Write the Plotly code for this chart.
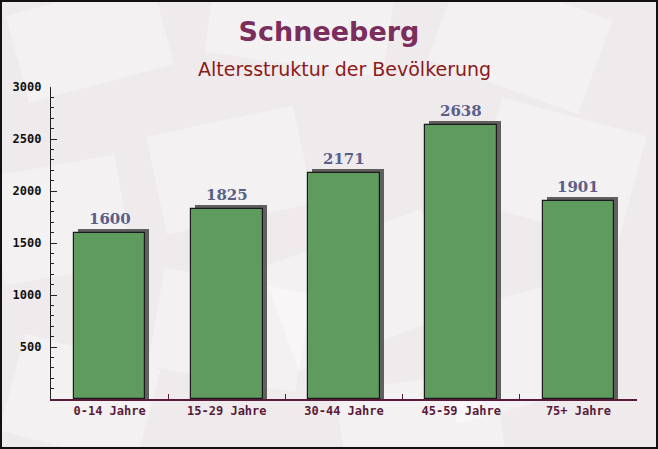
import math
import plotly.graph_objects as go

categories = ["0-14 Jahre", "15-29 Jahre", "30-44 Jahre", "45-59 Jahre", "75+ Jahre"]
values = [1600, 1825, 2171, 2638, 1901]
y_ticks = [500, 1000, 1500, 2000, 2500, 3000]

W, H = 658, 449
ml, mr, mt, mb = 51, 21, 87, 50
pw, ph = W - ml - mr, H - mt - mb
ymax = 3000
bar_w = 0.61
shadow_dx = 4 / (pw / len(categories))   # ~4px right in category units
shadow_dy = 4 * ymax / ph                # ~4px up in data units

fig = go.Figure()
fig.add_trace(go.Bar(
    x=categories, y=[v + shadow_dy for v in values],
    width=bar_w, offset=-bar_w / 2 + shadow_dx,
    marker=dict(color="rgba(70,70,70,0.85)", line=dict(width=0)),
    hoverinfo="skip", showlegend=False,
))
fig.add_trace(go.Bar(
    x=categories, y=values,
    width=bar_w, offset=-bar_w / 2,
    marker=dict(color="#5f9a5f", line=dict(color="#1a1a1a", width=1.2)),
    showlegend=False,
))

for c, v in zip(categories, values):
    fig.add_annotation(
        x=c, y=v, text=f"<b>{v}</b>", showarrow=False,
        yanchor="bottom", yshift=3,
        font=dict(family="DejaVu Serif", size=15, color="#5a5f8a"),
    )

# faint background decorations (tilted envelope-like cards), in pixel space
def px2paper(x, y):
    return (x - ml) / pw, (H - mb - y) / ph

deco = [  # cx, cy, w, h, angle (deg)
    (90, 40, 150, 90, -15), (300, 20, 180, 90, 8), (520, 40, 160, 100, 20),
    (60, 220, 130, 110, -10), (230, 170, 150, 100, -12), (560, 170, 150, 110, 15),
    (360, 290, 170, 110, -20), (230, 330, 150, 100, 10), (520, 350, 160, 110, -15),
    (80, 400, 140, 100, 15), (420, 420, 160, 80, -8),
]
for cx, cy, w, h, ang in deco:
    a = math.radians(ang)
    pts = []
    for dx, dy in [(-w / 2, -h / 2), (w / 2, -h / 2), (w / 2, h / 2), (-w / 2, h / 2)]:
        x = cx + dx * math.cos(a) - dy * math.sin(a)
        y = cy + dx * math.sin(a) + dy * math.cos(a)
        pts.append(px2paper(x, y))
    path = "M " + " L ".join(f"{p[0]:.4f},{p[1]:.4f}" for p in pts) + " Z"
    fig.add_shape(type="path", xref="paper", yref="paper", path=path,
                  fillcolor="rgba(255,255,255,0.35)", line=dict(width=0), layer="below")

# outer frame
fig.add_shape(type="rect", xref="paper", yref="paper",
              x0=-(ml - 1) / pw, x1=1 + (mr - 1) / pw,
              y0=-(mb - 1) / ph, y1=1 + (mt - 1) / ph,
              line=dict(color="#111111", width=2), fillcolor="rgba(0,0,0,0)")

fig.update_layout(
    width=W, height=H,
    margin=dict(l=ml, r=mr, t=mt, b=mb),
    paper_bgcolor="#efeaec", plot_bgcolor="rgba(0,0,0,0)",
    barmode="overlay", bargap=0,
    title=dict(
        text="<b>Schneeberg</b>",
        x=0.5, xanchor="center", y=1 - 32 / H, yanchor="middle",
        font=dict(family="DejaVu Sans", size=27, color="#7b2d5c"),
    ),
    annotations=list(fig.layout.annotations) + [dict(
        text="Altersstruktur der Bevölkerung", xref="paper", yref="paper",
        x=0.5, y=1 + (mt - 69) / ph, xanchor="center", yanchor="middle",
        showarrow=False, font=dict(family="DejaVu Sans", size=19, color="#8b1a1a"),
    )],
    xaxis=dict(
        showline=True, linecolor="#5a1a3a", linewidth=1.5,
        ticks="inside", tickson="boundaries", ticklen=5, tickcolor="#5a1a3a",
        tickfont=dict(family="DejaVu Sans Mono", size=12, color="#5a1a3a", weight="bold"),
        showgrid=False, fixedrange=True,
    ),
    yaxis=dict(
        range=[0, ymax], tickvals=y_ticks,
        showline=True, linecolor="#222222", linewidth=1.2,
        ticks="inside", ticklen=6, tickcolor="#222222",
        minor=dict(dtick=100, ticks="inside", ticklen=3, tickcolor="#222222", showgrid=False),
        tickfont=dict(family="DejaVu Sans Mono", size=12, color="#111111", weight="bold"),
        ticklabelstandoff=6,
        showgrid=False, zeroline=False, fixedrange=True,
    ),
)

fig.write_html("out.html", config={"displayModeBar": False},
               post_script="document.body.style.margin='0';document.body.style.overflow='hidden';")
